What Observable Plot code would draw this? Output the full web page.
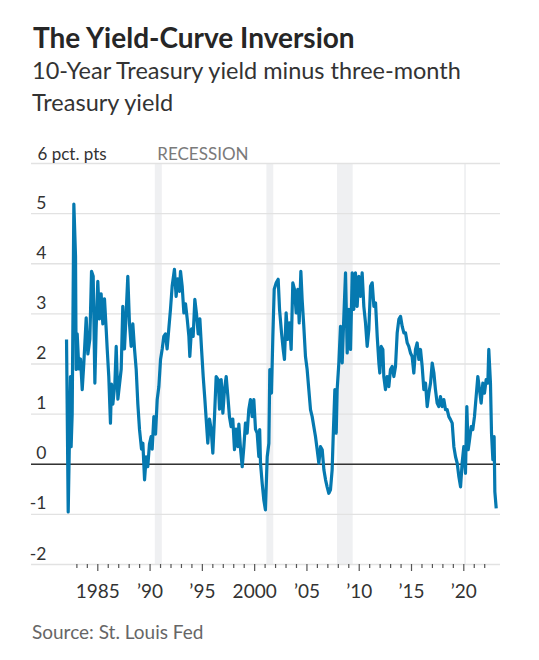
<!DOCTYPE html>
<html>
<head>
<meta charset="utf-8">
<script src="https://cdn.jsdelivr.net/npm/d3@7"></script>
<script src="https://cdn.jsdelivr.net/npm/@observablehq/plot@0.6"></script>
<style>
  html, body { margin: 0; padding: 0; background: #fff; }
  body { width: 539px; height: 660px; position: relative; overflow: hidden; font-family: Lato, "Noto Sans", sans-serif; }
  .title { position: absolute; left: 33px; top: 20.7px; font-size: 28px; line-height: 1.2; font-weight: 700; color: #262626; white-space: nowrap; }
  .subtitle { position: absolute; left: 32px; top: 55px; font-size: 23.5px; line-height: 31.7px; color: #333; white-space: nowrap; }
  .source { position: absolute; left: 32px; top: 621px; font-size: 19px; line-height: 1.2; color: #666; white-space: nowrap; }
  #chart { position: absolute; left: 0; top: 130px; }
</style>
</head>
<body>
<div class="title">The Yield-Curve Inversion</div>
<div class="subtitle">10-Year Treasury yield minus three-month<br>Treasury yield</div>
<div id="chart"></div>
<div class="source">Source: St. Louis Fed</div>
<script>
// Spread, 10-year minus 3-month Treasury yield (percentage points)
const years = [
  1982.01,1982.17,1982.39,1982.45,1982.55,1982.71,1982.87,1982.93,1983.03,1983.19,1983.35,1983.51,1983.66,1983.89,
  1984.05,1984.24,1984.40,1984.56,1984.72,1984.84,1985.00,1985.16,1985.32,1985.48,1985.64,1985.80,1985.90,
  1986.05,1986.21,1986.31,1986.44,1986.63,1986.76,1986.92,1987.08,1987.24,1987.39,1987.55,1987.71,1987.87,
  1988.03,1988.19,1988.35,1988.51,1988.67,1988.83,1988.99,1989.18,1989.31,1989.47,1989.63,1989.78,1989.94,
  1990.10,1990.20,1990.36,1990.52,1990.68,1990.84,1991.00,1991.16,1991.31,1991.47,1991.63,1991.79,1991.95,
  1992.11,1992.33,1992.49,1992.65,1992.81,1992.91,1993.07,1993.23,1993.39,1993.55,1993.71,1993.80,1993.96,
  1994.12,1994.28,1994.44,1994.60,1994.76,1994.92,1995.08,1995.24,1995.39,1995.52,1995.68,1995.84,
  1996.00,1996.16,1996.32,1996.51,1996.64,1996.80,1996.96,1997.12,1997.28,1997.44,1997.59,1997.75,1997.91,
  1998.07,1998.23,1998.39,1998.49,1998.65,1998.81,1998.97,1999.12,1999.28,1999.44,1999.60,1999.76,1999.92,
  2000.08,2000.24,2000.40,2000.48,2000.56,2000.72,2000.88,2001.03,2001.20,2001.36,2001.45,2001.61,2001.74,2001.87,
  2002.06,2002.25,2002.38,2002.57,2002.73,2002.85,2003.01,2003.17,2003.33,2003.49,2003.65,2003.81,2003.97,
  2004.13,2004.26,2004.42,2004.54,2004.70,2004.86,2005.02,2005.18,2005.34,2005.50,2005.66,2005.82,2005.98,
  2006.14,2006.30,2006.46,2006.62,2006.78,2006.93,2007.09,2007.25,2007.41,2007.51,2007.67,2007.80,2007.89,
  2008.05,2008.21,2008.37,2008.53,2008.69,2008.85,2009.01,2009.17,2009.33,2009.48,2009.64,2009.80,2009.96,
  2010.12,2010.28,2010.44,2010.60,2010.76,2010.92,2011.08,2011.24,2011.40,2011.56,2011.72,2011.88,2011.97,
  2012.10,2012.26,2012.35,2012.51,2012.67,2012.83,2012.99,2013.15,2013.31,2013.47,2013.63,2013.79,2013.95,
  2014.11,2014.27,2014.43,2014.59,2014.74,2014.90,2015.06,2015.22,2015.38,2015.54,2015.70,2015.86,
  2016.02,2016.18,2016.34,2016.50,2016.66,2016.82,2016.98,2017.14,2017.29,2017.45,2017.61,2017.77,2017.93,
  2018.09,2018.25,2018.41,2018.57,2018.73,2018.89,2019.05,2019.21,2019.37,2019.53,2019.69,2019.84,
  2020.00,2020.16,2020.29,2020.42,2020.55,2020.71,2020.86,2021.02,2021.18,2021.34,2021.50,2021.66,2021.82,2021.98,
  2022.14,2022.30,2022.39,2022.55,2022.65,2022.78,2022.90,2022.97,2023.10
];
const spread = [
  2.49,-0.95,1.75,0.35,1.0,5.19,4.15,1.89,2.6,1.9,2.1,1.49,2.0,2.92,
  2.2,2.5,3.85,3.75,1.62,2.7,3.65,2.9,3.4,2.8,3.3,2.7,2.3,
  1.75,0.82,1.6,1.2,1.6,2.35,1.3,1.6,1.9,3.15,2.3,3.0,3.75,
  2.8,2.35,2.8,2.3,1.9,1.2,0.69,0.3,0.42,-0.31,0.15,-0.05,0.4,
  0.55,0.3,0.95,0.6,1.29,1.55,2.09,2.3,2.55,2.6,2.3,2.7,3.09,
  3.55,3.89,3.35,3.7,3.45,3.85,3.55,3.02,3.2,2.9,2.55,2.15,2.7,
  2.55,3.29,3.0,2.6,2.9,2.3,1.75,1.29,0.82,0.42,0.9,0.7,
  0.22,0.95,1.75,1.69,1.1,1.69,1.02,1.5,1.75,1.35,0.95,0.75,0.9,
  0.29,0.7,0.35,0.8,0.3,-0.05,0.35,0.82,0.62,1.09,1.29,0.95,1.29,
  0.7,0.62,0.15,0.69,0.02,-0.38,-0.72,-0.91,0.15,0.42,1.89,1.42,2.55,3.49,
  3.62,3.69,3.09,2.62,2.29,2.09,3.02,2.49,2.82,2.29,3.62,3.49,3.02,
  3.49,2.82,3.85,3.29,2.75,2.15,1.89,1.49,1.09,0.95,0.75,0.55,0.29,
  0.02,0.35,0.29,-0.11,-0.31,-0.45,-0.58,-0.51,-0.11,0.55,1.49,0.62,1.49,
  2.02,2.75,2.02,2.95,3.82,2.22,3.09,2.29,3.82,3.09,3.82,3.15,3.75,
  3.35,3.82,3.15,2.82,2.35,2.69,3.55,3.62,3.15,3.22,2.55,2.02,1.82,
  2.35,2.29,1.75,1.49,1.75,1.55,1.89,1.95,1.75,1.95,2.62,2.89,2.95,
  2.75,2.62,2.62,2.42,2.35,2.22,2.15,1.82,2.29,2.42,2.09,2.29,
  1.95,1.49,1.62,1.15,1.42,1.62,2.02,1.82,1.49,1.22,1.15,1.35,1.15,
  1.29,1.09,1.09,0.95,0.89,0.82,0.35,0.15,0.02,-0.25,-0.45,0.02,
  0.35,-0.18,1.15,0.29,0.49,0.75,0.69,0.95,1.35,1.75,1.49,1.22,1.62,1.42,
  1.69,1.62,2.29,1.62,0.62,0.09,0.55,-0.55,-0.88
];

// NBER recessions shown (decimal years)
const recessionStart = [1990.50, 2001.17, 2007.92, 2020.08];
const recessionEnd   = [1991.17, 2001.83, 2009.42, 2020.25];

// Axis ticks and labels
const yTicks = [-2, -1, 0, 1, 2, 3, 4, 5];
const yTickLabels = ["-2", "-1", "0", "1", "2", "3", "4", "5"];
const yTopTick = 6;
const yTopLabel = "6 pct. pts";
const xMajorTicks = [1985, 1990, 1995, 2000, 2005, 2010, 2015, 2020];
const xMajorLabels = ["1985", "\u201990", "\u201995", "2000", "\u201905", "\u201910", "\u201915", "\u201920"];
const xMinorTicks = [1983,1984,1986,1987,1988,1989,1991,1992,1993,1994,1996,1997,1998,1999,2001,2002,2003,2004,2006,2007,2008,2009,2011,2012,2013,2014,2016,2017,2018,2019,2021,2022];
const xDomain = [1978.66, 2023.51];
const yDomain = [-2, 6];

const series = years.map((t, i) => ({t, v: spread[i]}));
const recessions = recessionStart.map((s, i) => ({s, e: recessionEnd[i]}));
const yLab = yTicks.map((v, i) => ({v, label: yTickLabels[i]}));

const axisFont = 'Lato, "Noto Sans", sans-serif';

const chart = Plot.plot({
  width: 539,
  height: 475,
  marginLeft: 31,
  marginRight: 39,
  marginTop: 33,
  marginBottom: 41,
  style: {fontFamily: axisFont, fontSize: "17px", color: "#333", background: "transparent"},
  x: {domain: xDomain, label: null},
  y: {domain: yDomain, axis: null, label: null},
  marks: [
    Plot.rect(recessions, {x1: "s", x2: "e", y1: yDomain[0], y2: yDomain[1], fill: "#eff0f2"}),
    Plot.ruleY([...yTicks, yTopTick], {stroke: "#e2e2e2", strokeWidth: 1.3}),
    Plot.ruleY([0], {stroke: "#333", strokeWidth: 1.5}),
    Plot.line(series, {x: "t", y: "v", stroke: "#0579b0", strokeWidth: 3.2, strokeLinejoin: "round", strokeLinecap: "butt"}),
    Plot.text(yLab, {y: "v", text: "label", frameAnchor: "left", dx: 15, dy: -5, textAnchor: "end", lineAnchor: "bottom", fill: "#333", fontSize: 17.5}),
    Plot.text([yTopTick], {y: d => d, text: [yTopLabel], frameAnchor: "left", dx: 6, dy: -4, textAnchor: "start", lineAnchor: "bottom", fill: "#333", fontSize: 17}),
    Plot.text([recessionStart[0]], {x: d => d, y: yTopTick, text: ["RECESSION"], dx: 2, dy: -4, textAnchor: "start", lineAnchor: "bottom", fill: "#7a7a7a", fontSize: 17}),
    Plot.axisX({ticks: xMinorTicks, tickSize: 4, tickFormat: () => "", stroke: "#555", strokeWidth: 1.2, label: null}),
    Plot.axisX({ticks: xMajorTicks, tickSize: 7, tickPadding: 13, tickFormat: d => xMajorLabels[xMajorTicks.indexOf(d)], stroke: "#555", strokeWidth: 1.2, fill: "#333", fontSize: 19, label: null})
  ]
});
document.getElementById("chart").appendChild(chart);
</script>
</body>
</html>
